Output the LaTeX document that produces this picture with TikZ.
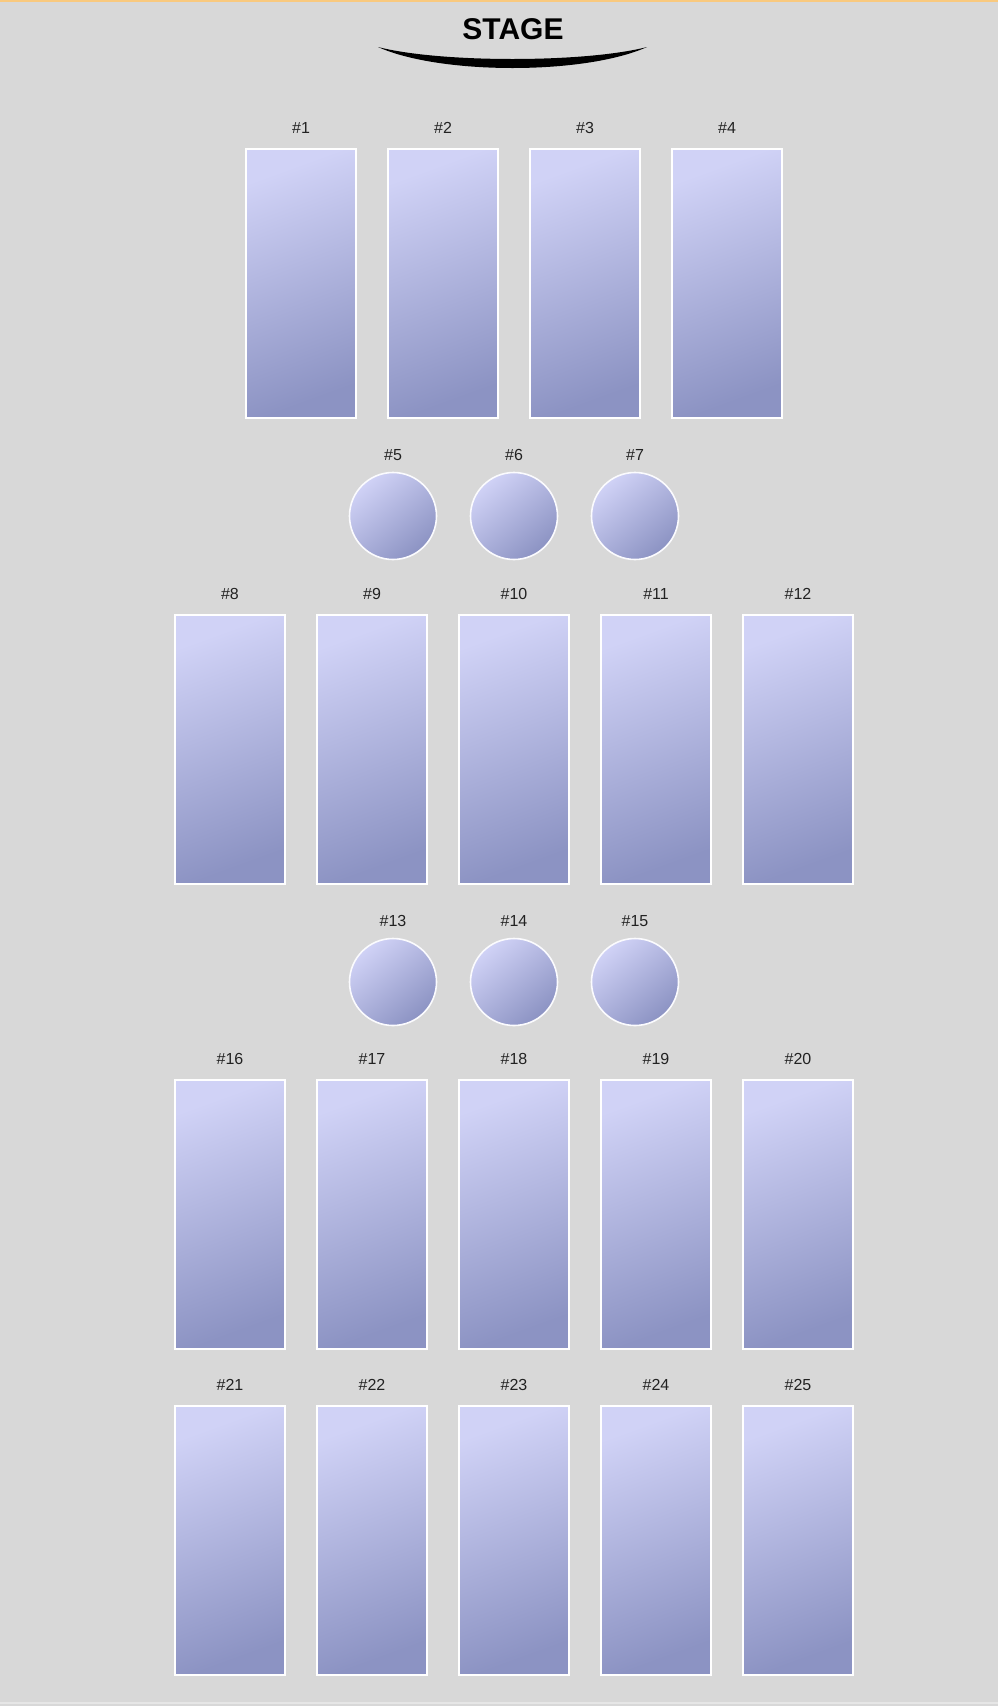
\documentclass[tikz,border=0pt]{standalone}
\usepackage{fontspec}
\setmainfont{Liberation Sans}
\usepackage{tikz}
\usetikzlibrary{positioning}
\definecolor{floorbg}{HTML}{D8D8D8}
\definecolor{topline}{HTML}{F9C97E}
\definecolor{seatlight}{HTML}{D0D2F6}
\definecolor{seatdark}{HTML}{8C93C3}
\definecolor{numtext}{HTML}{222222}
\tikzset{
  tbl/.style   = {draw=white,line width=2pt,minimum width=110pt,
                  minimum height=269pt,inner sep=0pt,
                  top color=seatlight,bottom color=seatdark,shading angle=20},
  rnd/.style   = {circle,draw=white!92!seatlight,line width=1.6pt,
                  minimum size=87pt,inner sep=0pt,
                  top color=seatlight,bottom color=seatdark,shading angle=40},
  tblnum/.style = {font=\fontsize{16}{18}\selectfont,text=numtext,
                   anchor=base,inner sep=0pt},
}

\begin{document}
\begin{tikzpicture}[x=1pt,y=-1pt]
  \useasboundingbox (0,0) rectangle (998,1706);
  % floor
  \fill[floorbg] (0,0) rectangle (998,1706);
  \fill[topline] (0,0) rectangle (998,2);
  \fill[white!35!floorbg] (0,1702) rectangle (998,1704);
  % stage
  \node[font=\bfseries\fontsize{30}{32}\selectfont,inner sep=0pt] (stage) at (513,29) {STAGE};
  \fill[black] (378,47) .. controls (440,75) and (585,75) .. (647,47)
               .. controls (585,63) and (440,63) .. cycle;
  % row 1-4
  \foreach \i [count=\k from 0] in {1,...,4}{
    \node[tbl] (t\i) at ({301+142*\k},283.5) {};
    \node[tblnum] (n\i) at ({301+142*\k},133.5) {\#\i};
  }
  % round 5-7
  \foreach \i [count=\k from 0] in {5,6,7}{
    \node[rnd] (t\i) at ({393+121*\k},516) {};
    \node[tblnum] (n\i) at ({393+121*\k},460) {\#\i};
  }
  % row 8-12
  \foreach \i [count=\k from 0] in {8,...,12}{
    \node[tbl] (t\i) at ({230+142*\k},749) {};
    \node[tblnum] (n\i) at ({230+142*\k},599.5) {\#\i};
  }
  % round 13-15
  \foreach \i [count=\k from 0] in {13,14,15}{
    \node[rnd] (t\i) at ({393+121*\k},982) {};
    \node[tblnum] (n\i) at ({393+121*\k},926) {\#\i};
  }
  % row 16-20
  \foreach \i [count=\k from 0] in {16,...,20}{
    \node[tbl] (t\i) at ({230+142*\k},1214) {};
    \node[tblnum] (n\i) at ({230+142*\k},1064) {\#\i};
  }
  % row 21-25
  \foreach \i [count=\k from 0] in {21,...,25}{
    \node[tbl] (t\i) at ({230+142*\k},1540.5) {};
    \node[tblnum] (n\i) at ({230+142*\k},1390.5) {\#\i};
  }
\end{tikzpicture}
\end{document}
